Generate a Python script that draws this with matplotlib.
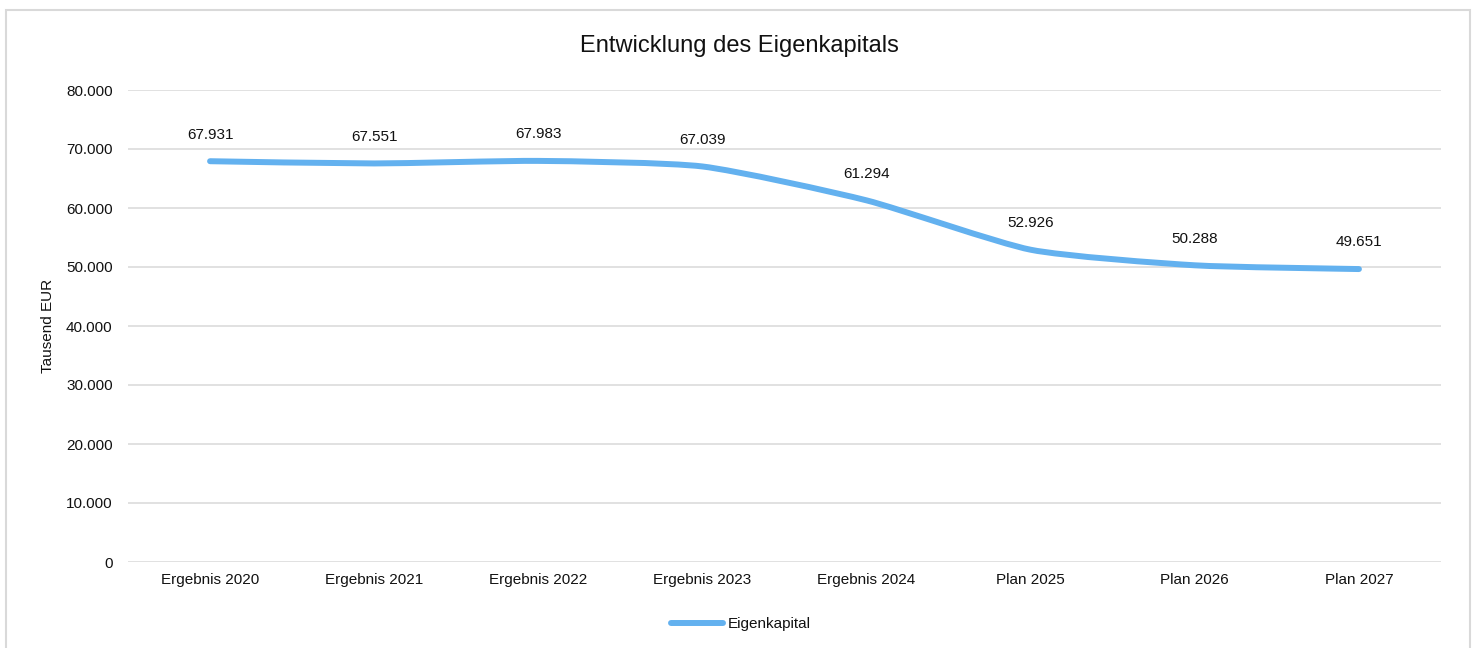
import matplotlib
matplotlib.use("Agg")
import matplotlib.pyplot as plt
import numpy as np
from matplotlib.path import Path
from matplotlib.patches import PathPatch, Rectangle
from matplotlib.lines import Line2D
from matplotlib.ticker import FuncFormatter

plt.rcParams['font.family'] = ['Liberation Sans', 'DejaVu Sans']

categories = ["Ergebnis 2020", "Ergebnis 2021", "Ergebnis 2022", "Ergebnis 2023",
              "Ergebnis 2024", "Plan 2025", "Plan 2026", "Plan 2027"]
eigenkapital = [67931, 67551, 67983, 67039, 61294, 52926, 50288, 49651]
y_ticks = [0, 10000, 20000, 30000, 40000, 50000, 60000, 70000, 80000]

title = "Entwicklung des Eigenkapitals"
y_label = "Tausend EUR"
series_name = "Eigenkapital"

LINE_COLOR = "#63B1EF"
GRID_COLOR = "#D9D9D9"
TEXT_COLOR = "#111111"


def de_format(v):
    return f"{int(round(v)):,}".replace(",", ".")


def smooth_path(xs, ys, tension=10.0):
    """Cubic Bezier through all points with softened Catmull-Rom tangents."""
    pts = np.column_stack([xs, ys]).astype(float)
    n = len(pts)
    verts = [pts[0]]
    codes = [Path.MOVETO]
    for i in range(n - 1):
        p0 = pts[i - 1] if i > 0 else pts[i]
        p1 = pts[i]
        p2 = pts[i + 1]
        p3 = pts[i + 2] if i + 2 < n else pts[i + 1]
        c1 = p1 + (p2 - p0) / tension
        c2 = p2 - (p3 - p1) / tension
        verts += [c1, c2, p2]
        codes += [Path.CURVE4] * 3
    return Path(verts, codes)


fig = plt.figure(figsize=(14.75, 6.48), dpi=100)
ax = fig.add_axes([128 / 1475, 1 - 562 / 648, (1441 - 128) / 1475, (562 - 90) / 648])

x = np.arange(len(categories))
ax.set_xlim(-0.5, len(categories) - 0.5)
ax.set_ylim(0, 80000)

ax.add_patch(PathPatch(smooth_path(x, eigenkapital), facecolor="none",
                       edgecolor=LINE_COLOR, lw=4.3, capstyle="round",
                       joinstyle="round", zorder=3))

for xi, v in zip(x, eigenkapital):
    ax.annotate(de_format(v), (xi, v), xytext=(0, 19.2), textcoords="offset points",
                ha="center", va="center", fontsize=11, color=TEXT_COLOR)

ax.set_yticks(y_ticks)
ax.yaxis.set_major_formatter(FuncFormatter(lambda v, p: de_format(v)))
ax.set_xticks(x)
ax.set_xticklabels(categories)
ax.tick_params(axis="y", length=0, pad=11, labelsize=11, labelcolor=TEXT_COLOR)
ax.tick_params(axis="x", length=0, pad=8, labelsize=11, labelcolor=TEXT_COLOR)
ax.grid(axis="y", color=GRID_COLOR, lw=1.1)
ax.set_axisbelow(True)
for s in ax.spines.values():
    s.set_visible(False)

ax.set_ylabel(y_label, fontsize=11, color=TEXT_COLOR)
ax.yaxis.set_label_coords((55 - 128) / 1313, 0.5)

fig.text(739 / 1475, 1 - 46 / 648, title, ha="center", va="center",
         fontsize=17, color=TEXT_COLOR)

handle = Line2D([], [], color=LINE_COLOR, lw=4.3, solid_capstyle="round")
fig.legend([handle], [series_name], loc="center",
           bbox_to_anchor=(741 / 1475, 1 - 624 / 648), frameon=False,
           fontsize=11, handlelength=3.4, handletextpad=0.3,
           labelcolor=TEXT_COLOR)

fig.add_artist(Rectangle((5.5 / 1475, -0.02), (1469.5 - 5.5) / 1475,
                         1.02 - 9.5 / 648, transform=fig.transFigure,
                         fill=False, edgecolor=GRID_COLOR, lw=1.5))

fig.savefig("out.png", dpi=100, facecolor="white")
